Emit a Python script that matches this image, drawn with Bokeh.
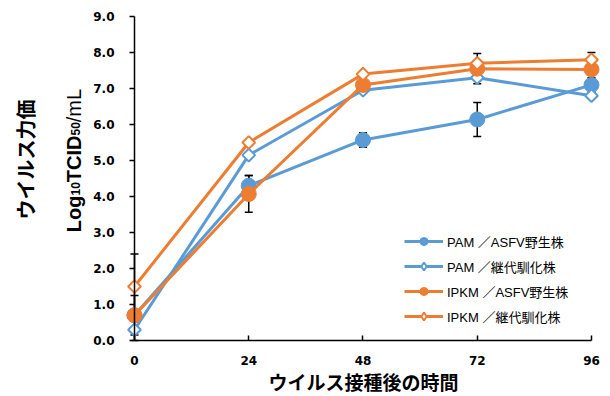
import numpy as np
from bokeh.plotting import figure
from bokeh.models import (Range1d, FixedTicker, PrintfTickFormatter, Label,
                          Legend, LegendItem)
from bokeh.embed import file_html
from bokeh.resources import INLINE

# ---- data ----
hours = [0, 24, 48, 72, 96]
y_ticks = [0, 1, 2, 3, 4, 5, 6, 7, 8, 9]

pam_wild = [0.7, 4.3, 5.57, 6.14, 7.1]
pam_wild_err = [1.7, 0.28, 0.2, 0.47, 0.2]
pam_adapt = [0.3, 5.15, 6.95, 7.3, 6.8]
ipkm_wild = [0.7, 4.07, 7.1, 7.55, 7.53]
ipkm_wild_err = [0.55, 0.51, 0.1, 0.42, 0.47]
ipkm_adapt = [1.5, 5.5, 7.4, 7.7, 7.8]

labels = ["PAM ／ASFV野生株", "PAM ／継代馴化株",
          "IPKM ／ASFV野生株", "IPKM ／継代馴化株"]

BLUE = "#5B9BD5"
ORANGE = "#ED7D31"

# frame covers the whole canvas; axes are pinned at 0
p = figure(width=610, height=396,
           x_range=Range1d(-28.149, 99.992), y_range=Range1d(-1.5556, 9.4444),
           output_backend="svg", toolbar_location=None,
           min_border_left=0, min_border_right=0,
           min_border_top=0, min_border_bottom=0)
p.xgrid.visible = False
p.ygrid.visible = False
p.outline_line_color = None

for ax in (p.xaxis[0], p.yaxis[0]):
    ax.fixed_location = 0
    ax.axis_line_color = "black"
    ax.axis_line_width = 1.5
    ax.major_tick_line_color = "black"
    ax.major_tick_line_width = 1.5
    ax.minor_tick_line_color = None
    ax.major_label_text_font = "DejaVu Sans"
    ax.major_label_text_font_style = "bold"
    ax.major_label_text_font_size = "12px"
    ax.major_label_text_color = "black"

p.xaxis.ticker = FixedTicker(ticks=hours)
p.xaxis.bounds = (0, 96)
p.xaxis.major_tick_in = 5
p.xaxis.major_tick_out = 0
p.xaxis.major_label_standoff = 16

p.yaxis.ticker = FixedTicker(ticks=y_ticks)
p.yaxis.bounds = (0, 9)
p.yaxis.major_tick_in = 0
p.yaxis.major_tick_out = 5
p.yaxis.major_label_standoff = 15
p.yaxis.formatter = PrintfTickFormatter(format="%.1f")

# error bars (beneath markers), clipped at the axis
for vals, errs in ((pam_wild, pam_wild_err), (ipkm_wild, ipkm_wild_err)):
    lo = [max(v - e, 0.0) for v, e in zip(vals, errs)]
    hi = [v + e for v, e in zip(vals, errs)]
    p.segment(x0=hours, y0=lo, x1=hours, y1=hi, line_color="black", line_width=1.5)
    p.scatter(x=hours, y=lo, marker="dash", size=8, line_color="black", line_width=1.5)
    p.scatter(x=hours, y=hi, marker="dash", size=8, line_color="black", line_width=1.5)

items = []
series = [(pam_wild, BLUE, True), (pam_adapt, BLUE, False),
          (ipkm_wild, ORANGE, True), (ipkm_adapt, ORANGE, False)]
for (vals, col, filled), lab in zip(series, labels):
    lr = p.line(hours, vals, line_color=col, line_width=3)
    if filled:
        sr = p.scatter(hours, vals, marker="circle", size=15,
                       fill_color=col, line_color=col)
        items.append(LegendItem(label=lab, renderers=[lr, sr]))
    else:
        # small diamond for the legend key (hidden under the plotted diamonds)
        kr = p.scatter(hours, vals, marker="diamond", size=6,
                       fill_color="white", line_color=col, line_width=2)
        p.scatter(hours, vals, marker="square", angle=np.pi / 4, size=9,
                  fill_color="white", line_color=col, line_width=2)
        items.append(LegendItem(label=lab, renderers=[lr, kr]))

legend = Legend(items=items, location=(404, 70), orientation="vertical",
                glyph_width=39, glyph_height=20, spacing=5, padding=0, margin=0,
                label_standoff=4, label_text_font_size="13px",
                label_text_font="Liberation Sans, Noto Sans CJK JP",
                label_text_color="black",
                border_line_alpha=0, background_fill_alpha=0)
p.add_layout(legend)

# axis titles
p.add_layout(Label(x=363, y=15, x_units="screen", y_units="screen",
                   text="ウイルス接種後の時間", text_align="center",
                   text_baseline="middle", text_font="Noto Sans CJK JP",
                   text_font_style="bold", text_font_size="19px", text_color="black"))
p.add_layout(Label(x=24.7, y=237, x_units="screen", y_units="screen",
                   text="ウイルス力価", angle=np.pi / 2, text_align="center",
                   text_baseline="middle", text_font="Noto Sans CJK JP",
                   text_font_style="bold", text_font_size="20px", text_color="black"))

pieces = [("Log", 164.3, 73.3, "20px", "bold"),
          ("10", 201.0, 75.0, "12px", "bold"),
          ("TCID", 214.3, 73.3, "20px", "bold"),
          ("50", 261.0, 75.0, "12px", "bold"),
          ("/mL", 274.3, 73.3, "20px", "normal")]
for txt, sy, sx, fs, st in pieces:
    p.add_layout(Label(x=sx, y=sy, x_units="screen", y_units="screen",
                       text=txt, angle=np.pi / 2, text_align="left",
                       text_baseline="alphabetic", text_font="Liberation Sans",
                       text_font_style=st, text_font_size=fs, text_color="black"))

open("out.html", "w").write(file_html(p, INLINE))
